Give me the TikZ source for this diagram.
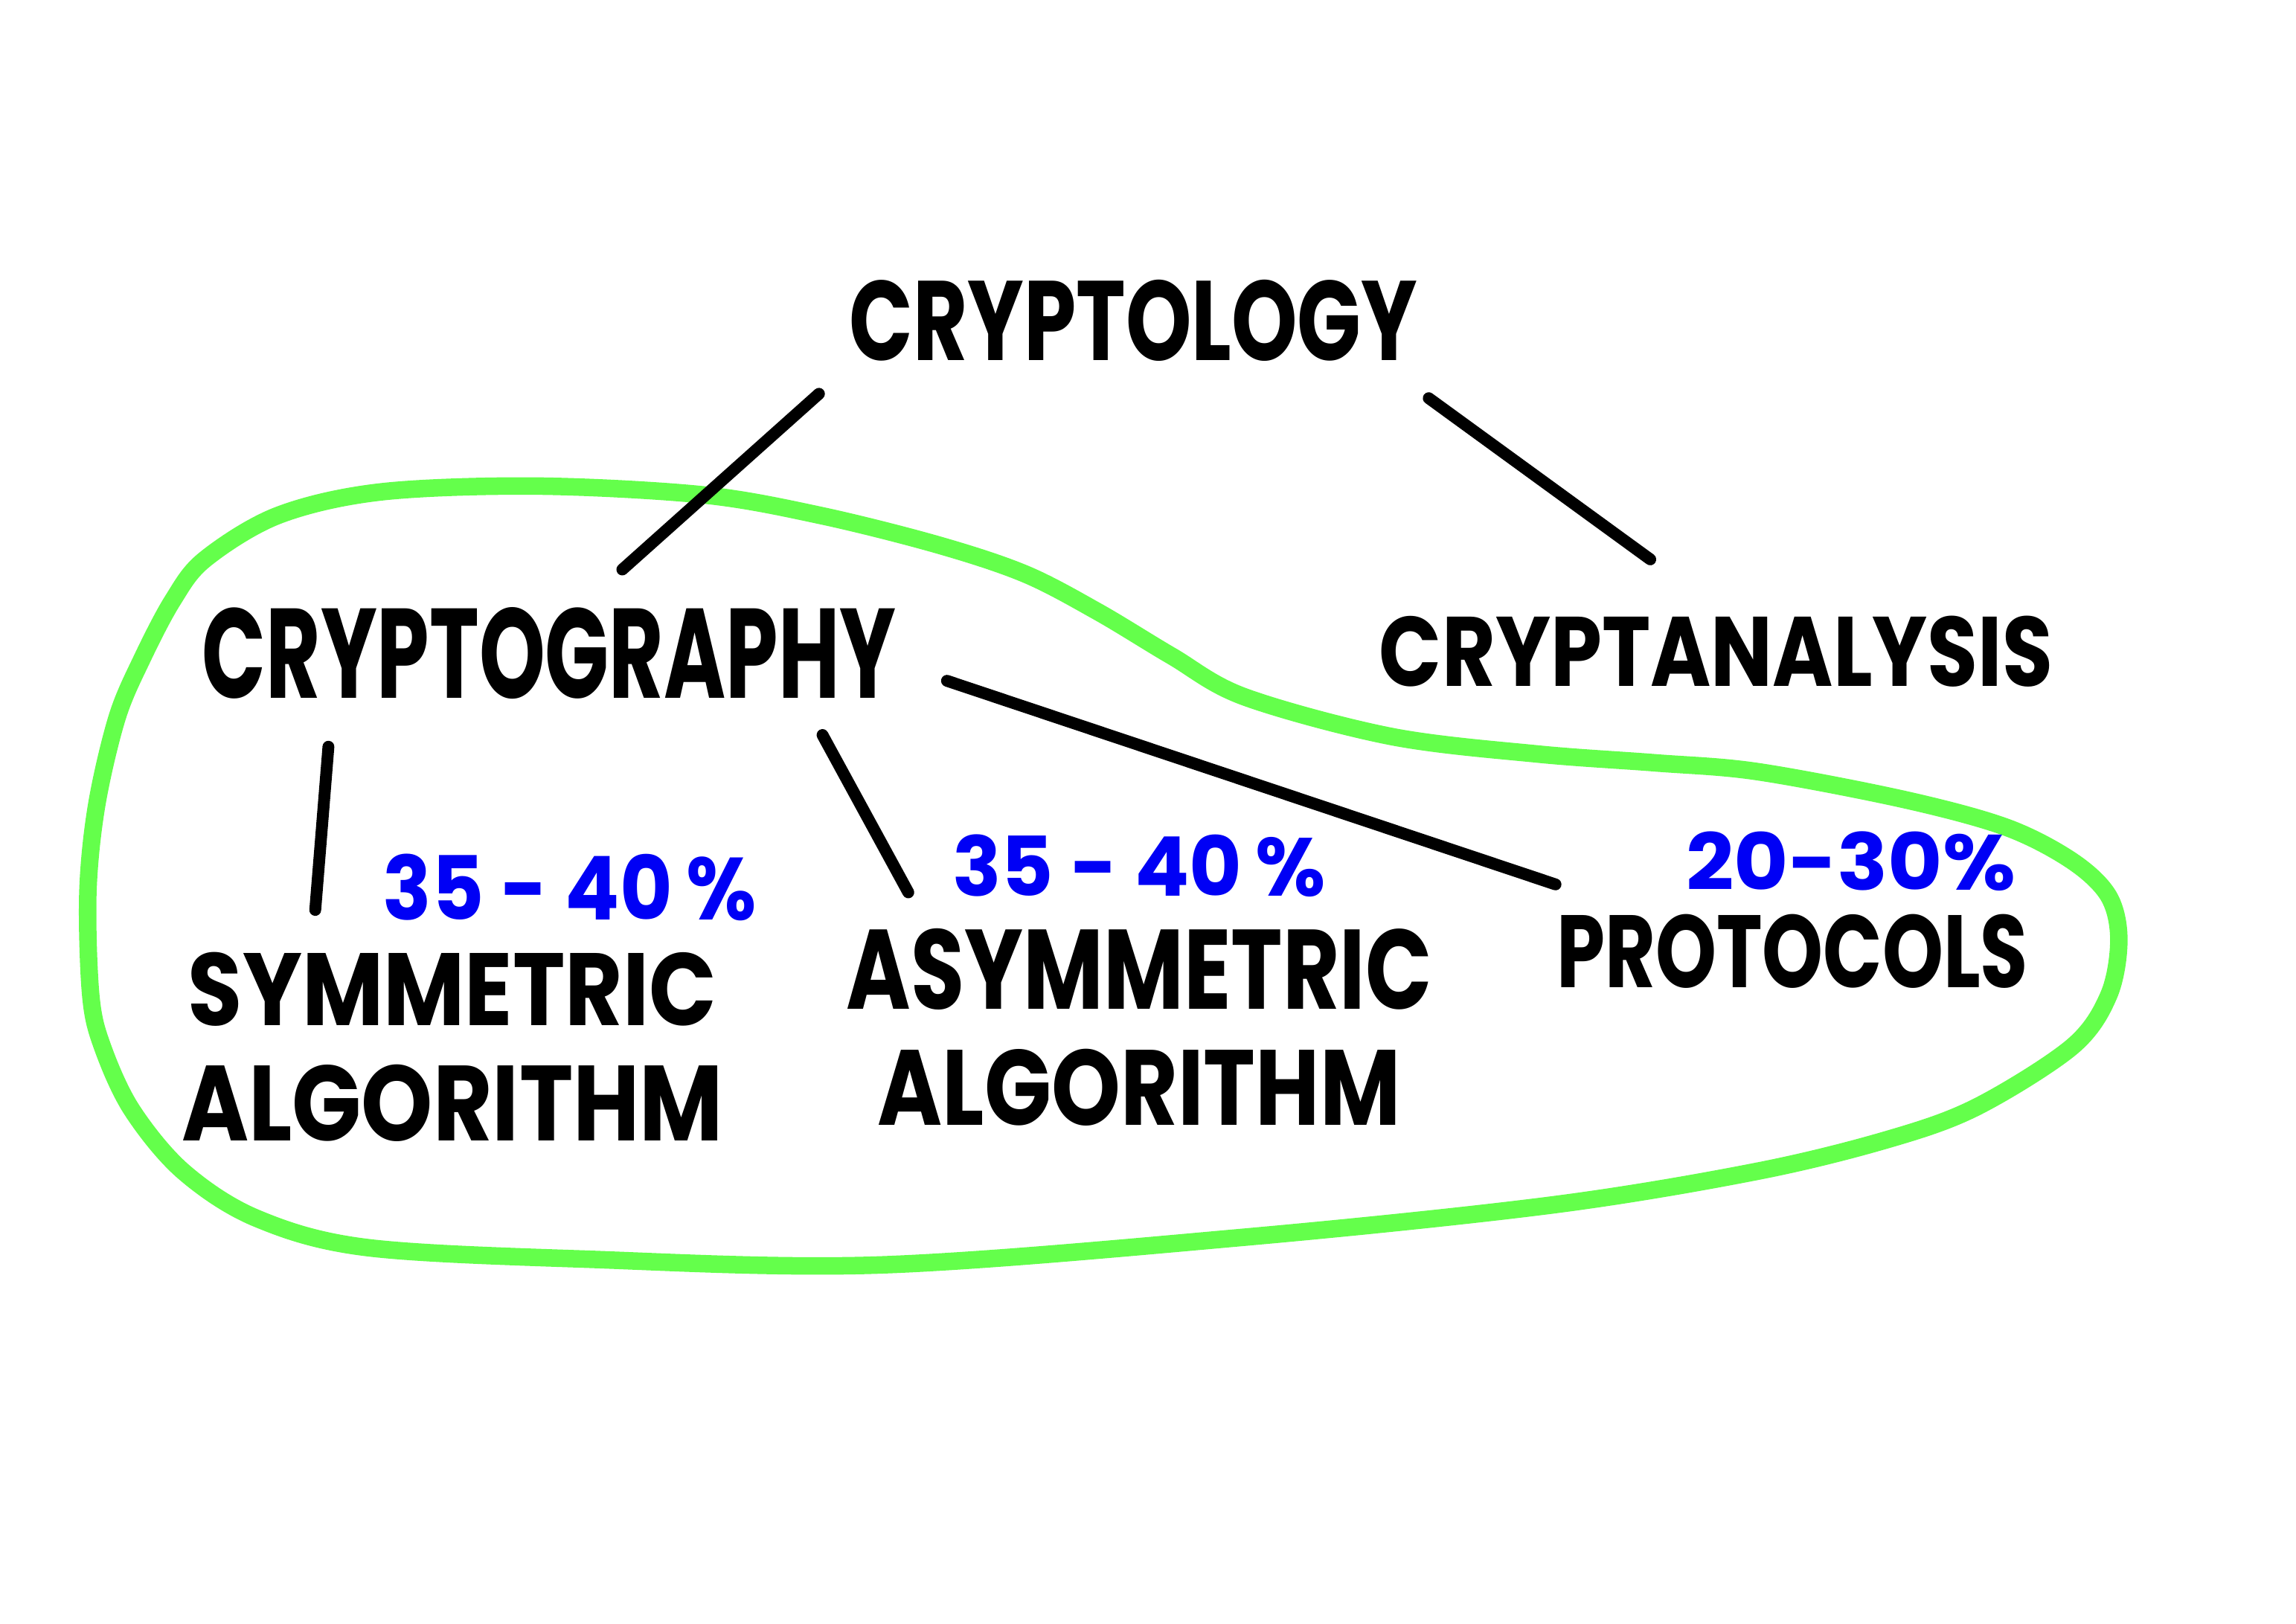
\documentclass[tikz,border=0pt]{standalone}
\usepackage{fontspec}
\setmainfont{Poppins}
\usetikzlibrary{positioning}
\definecolor{marker}{RGB}{100,255,75}
\definecolor{ink}{RGB}{0,0,245}
\newcommand{\hand}[3]{\resizebox{#1cm}{#2cm}{#3}}

\begin{document}
\begin{tikzpicture}[>=stealth, line cap=round,
    word/.style={inner sep=0pt, font=\bfseries\fontsize{16}{22.5}\selectfont, align=center},
    pct/.style={inner sep=0pt, text=ink, font=\bfseries},
    link/.style={line width=2.3pt}]
  \useasboundingbox (0,0) rectangle (15.68,11.09);
  % green loop round the cryptography branch
  \draw[marker, line width=3.4pt, line join=round] plot[smooth cycle, tension=0.55] coordinates {
    (1.18,6.99) (1.40,7.27) (1.90,7.57) (2.60,7.73) (3.66,7.77) (4.80,7.71)
    (5.60,7.57) (6.40,7.37) (7.00,7.17) (7.50,6.91) (8.00,6.61) (8.50,6.33)
    (9.50,6.06) (10.50,5.94) (11.30,5.88) (12.00,5.82) (13.00,5.63) (13.70,5.44)
    (14.15,5.21) (14.40,4.97) (14.47,4.67) (14.40,4.29) (14.15,3.94) (13.50,3.53)
    (12.90,3.31) (12.00,3.09) (10.60,2.86) (8.50,2.64) (6.00,2.45) (4.00,2.49)
    (2.50,2.57) (1.75,2.77) (1.25,3.09) (0.90,3.51) (0.70,3.94) (0.62,4.29)
    (0.60,4.99) (0.66,5.59) (0.80,6.19) (0.97,6.59)};
  \node (logy) [word] at (7.74,8.90) {\hand{3.88}{0.55}{CRYPTOLOGY}};
  \node (graphy) [word] at (3.75,6.63) {\hand{4.74}{0.62}{CRYPTOGRAPHY}};
  \node (analysis) [word] at (11.72,6.64) {\hand{4.60}{0.48}{CRYPTANALYSIS}};
  \node (sym) [word] at (3.09,3.94) {\hand{3.61}{0.50}{SYMMETRIC}\\\hand{3.70}{0.52}{ALGORITHM}};
  \node (asym) [word] at (7.78,4.075) {\hand{4.00}{0.55}{ASYMMETRIC}\\\hand{3.57}{0.52}{ALGORITHM}};
  \node (proto) [word] at (12.24,4.59) {\hand{3.22}{0.50}{PROTOCOLS}};
  \node (p1) [pct, above=2mm of sym.north, xshift=8mm] {\hand{2.55}{0.45}{35 - 40\,\%}};
  \node (p2) [pct, above=2mm of asym.north] {\hand{2.55}{0.42}{35 - 40\,\%}};
  \node (p3) [pct, above=1.5mm of proto.north, xshift=4mm] {\hand{2.25}{0.40}{20-30\%}};
  \draw[link] ([shift={(-0.20,-0.215)}]logy.south west) -- ([shift={(0.50,0.25)}]graphy.north);
  \draw[link] ([shift={(0.07,-0.245)}]logy.south east) -- ([shift={(-0.45,0.38)}]analysis.north);
  \draw[link] ([shift={(0.87,-0.32)}]graphy.south west) -- ([shift={(0.92,0.28)}]sym.north west);
  \draw[link] ([shift={(-0.51,-0.24)}]graphy.south east) -- ([shift={(0.43,0.24)}]asym.north west);
  \draw[link] ([shift={(0.34,-0.19)}]graphy.east) -- ([shift={(0,0.20)}]proto.north west);
\end{tikzpicture}
\end{document}
